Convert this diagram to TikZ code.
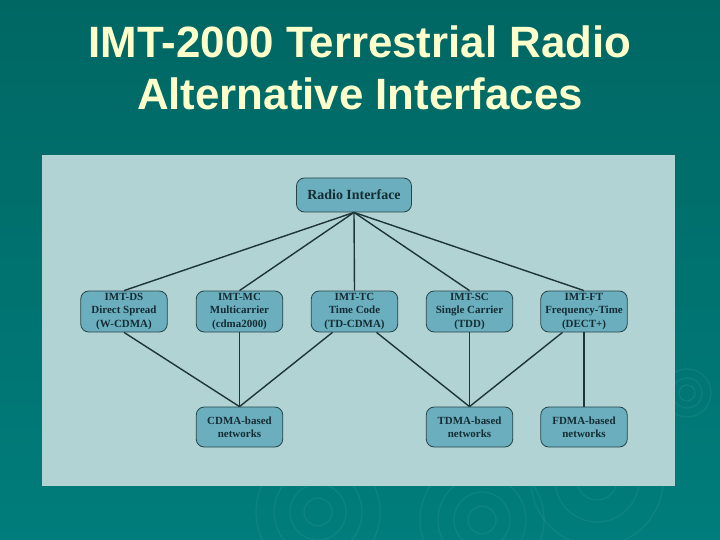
\documentclass[tikz,border=0pt]{standalone}
\usepackage{fontspec}
\setmainfont{Liberation Serif}
\newfontfamily\titlefont{Liberation Sans}

\definecolor{slidetop}{HTML}{006763}
\definecolor{slidebottom}{HTML}{007D7C}
\definecolor{titlecol}{HTML}{FFFFCC}
\definecolor{panelcol}{HTML}{B2D3D3}
\definecolor{boxfill}{HTML}{6BAFBF}
\definecolor{boxline}{HTML}{264549}
\definecolor{boxtext}{HTML}{142C33}
\definecolor{linkcol}{HTML}{1D3538}

\tikzset{
    box/.style={draw=boxline, fill=boxfill, rounded corners=8bp, line width=0.8bp,
        minimum width=86.5bp, minimum height=41bp, inner sep=1bp, align=center,
        text=boxtext, font=\fontsize{11}{13.5}\selectfont\bfseries},
    link/.style={draw=linkcol, line width=1.4bp},
    ripple/.style={draw=white, opacity=0.06, line width=1.2bp}
}

\begin{document}
\begin{tikzpicture}[x=1bp, y=-1bp]
        \shade[top color=slidetop, bottom color=slidebottom] (0,0) rectangle (720,540);
        \useasboundingbox (0,0) rectangle (720,540);
        \foreach \r in {8,15,24} {
            \draw[ripple] (687,393) circle (\r);
        }
        \foreach \r in {14,28,44,62} {
            \draw[ripple] (318,512) circle (\r);
            \draw[ripple] (482,520) circle (\r);
        }
        \foreach \r in {20,42,66} {
            \draw[ripple] (597,480) circle (\r);
        }

        \node (title) at (360,68) [text=titlecol, align=center,
            font=\titlefont\fontsize{44}{52}\selectfont\bfseries]
            {IMT-2000 Terrestrial Radio\\Alternative Interfaces};

        \fill[panelcol] (42,155) rectangle (675,486);

        \node (radio) at (354,195) [box, minimum width=115bp, minimum height=34bp,
            font=\fontsize{14}{16}\selectfont\bfseries] {Radio Interface};

        \node (ds) at (124,311.5) [box] {IMT-DS\\Direct Spread\\(W-CDMA)};
        \node (mc) at (239.5,311.5) [box] {IMT-MC\\Multicarrier\\(cdma2000)};
        \node (tc) at (354.5,311.5) [box] {IMT-TC\\Time Code\\(TD-CDMA)};
        \node (sc) at (469.5,311.5) [box] {IMT-SC\\Single Carrier\\(TDD)};
        \node (ft) at (584,311.5) [box] {IMT-FT\\Frequency-Time\\(DECT+)};

        \node (cdma) at (239.5,427) [box, minimum height=40bp] {CDMA-based\\networks};
        \node (tdma) at (469.5,427) [box, minimum height=40bp] {TDMA-based\\networks};
        \node (fdma) at (584,427) [box, minimum height=40bp] {FDMA-based\\networks};

        \foreach \n in {ds,mc,tc,sc,ft} {
            \draw[link] (radio.south) -- (\n.north);
        }
        \draw[link] (ds.south) -- (cdma.north);
        \draw[link] (mc.south) -- (cdma.north);
        \draw[link] ([xshift=-22bp]tc.south) -- (cdma.north);
        \draw[link] ([xshift=22bp]tc.south) -- (tdma.north);
        \draw[link] (sc.south) -- (tdma.north);
        \draw[link] ([xshift=-21.5bp]ft.south) -- (tdma.north);
        \draw[link] (ft.south) -- (fdma.north);
    \end{tikzpicture}
\end{document}
